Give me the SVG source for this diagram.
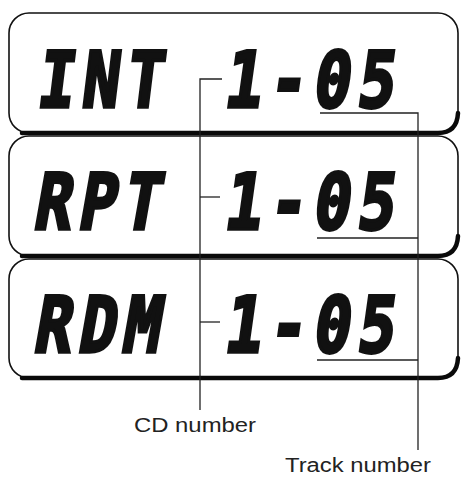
<svg xmlns="http://www.w3.org/2000/svg" width="461" height="478" viewBox="0 0 461 478">
<style>
.box{fill:#fff;stroke:#111;stroke-width:1.6}
.shadow{fill:none;stroke:#0a0a0a;stroke-width:4.5;stroke-linecap:round}
.lcd{font-family:"DejaVu Sans Mono",monospace;font-weight:bold;font-size:77px;fill:#111;stroke:#111;stroke-width:3.6;stroke-linejoin:miter;letter-spacing:9px}
.lead{fill:none;stroke:#222;stroke-width:1.3}
.lbl{font-family:"Liberation Sans",Arial,sans-serif;font-size:20px;fill:#222}
</style>
<rect width="461" height="478" fill="#fff"/>
<g id="node-int">
<rect class="box" x="9" y="13" width="449" height="120" rx="20"/>
<path class="shadow" d="M22,133 H438 Q457,133 458,113"/>
<text class="lcd" transform="translate(36,107) skewX(-7) scale(0.8,1)">INT</text>
<text class="lcd" transform="translate(223,107) skewX(-8) scale(0.8,1)">1-05</text>
</g>
<g id="node-rpt">
<rect class="box" x="9" y="136" width="449" height="120" rx="20"/>
<path class="shadow" d="M22,256 H438 Q457,256 458,236"/>
<text class="lcd" transform="translate(32,229) skewX(-10) scale(0.8,1)">RPT</text>
<text class="lcd" transform="translate(223,229) skewX(-8) scale(0.8,1)">1-05</text>
</g>
<g id="node-rdm">
<rect class="box" x="9" y="259" width="449" height="119" rx="20"/>
<path class="shadow" d="M22,378 H438 Q457,378 458,358"/>
<text class="lcd" transform="translate(32,352) skewX(-10) scale(0.8,1)">RDM</text>
<text class="lcd" transform="translate(223,352) skewX(-8) scale(0.8,1)">1-05</text>
</g>
<g id="connectors">
<path class="lead" d="M222,79 H200 V410"/>
<path class="lead" d="M200,197 H220"/>
<path class="lead" d="M200,322 H220"/>
<path class="lead" d="M320,113 H418 V450"/>
<path class="lead" d="M317,238 H418"/>
<path class="lead" d="M317,360 H418"/>
</g>
<g id="labels">
<text class="lbl" x="134" y="432" textLength="122" lengthAdjust="spacingAndGlyphs">CD number</text>
<text class="lbl" x="285" y="472" textLength="146" lengthAdjust="spacingAndGlyphs">Track number</text>
</g>
</svg>
